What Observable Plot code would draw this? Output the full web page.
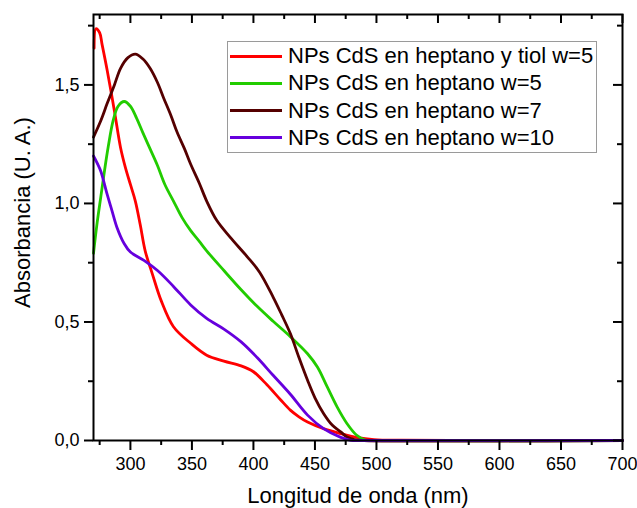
<!DOCTYPE html>
<html>
<head>
<meta charset="utf-8">
<script src="https://cdn.jsdelivr.net/npm/d3@7"></script>
<script src="https://cdn.jsdelivr.net/npm/@observablehq/plot@0.6"></script>
<style>
  html, body { margin: 0; padding: 0; background: #fff; }
  #wrap { position: relative; width: 637px; height: 508px; font-family: "Liberation Sans", Arial, sans-serif; }
  #legend { position: absolute; left: 227px; top: 41px; width: 370px; height: 112px; border: 1.5px solid #9a9a9a; box-sizing: border-box; background: #fff; }
  .row { position: absolute; left: 0; height: 27px; display: flex; align-items: center; font-size: 22px; color: #000; white-space: nowrap; }
  .sw { display: inline-block; width: 52px; height: 3px; margin-left: 2px; margin-right: 6px; }
</style>
</head>
<body>
<div id="wrap"></div>
<script>
// ---- data ----
const seriesNames = [
  "NPs CdS en heptano y tiol w=5",
  "NPs CdS en heptano w=5",
  "NPs CdS en heptano w=7",
  "NPs CdS en heptano w=10"
];
const seriesColors = ["#ff0000", "#22cc00", "#550000", "#6600dd"];

const redX = [270.5, 272, 275, 277, 281, 287, 292, 296, 300, 304, 308, 312, 318, 325, 335, 349, 362, 376, 390, 400, 411, 422, 430, 437, 444, 457, 471, 484, 498, 520, 560, 700];
const redY = [1.655, 1.737, 1.72, 1.67, 1.565, 1.39, 1.235, 1.15, 1.08, 1.01, 0.91, 0.80, 0.70, 0.59, 0.48, 0.41, 0.36, 0.335, 0.315, 0.29, 0.235, 0.172, 0.128, 0.100, 0.078, 0.05, 0.029, 0.013, 0.004, 0.001, 0.0, 0.0];

const greenX = [270, 273, 276, 279, 282, 286, 290, 295, 300, 305, 310, 316, 322, 328, 335, 342, 349, 356, 362, 376, 390, 403, 416, 430, 444, 452, 460, 468, 476, 484, 491, 500, 700];
const greenY = [0.79, 0.92, 1.03, 1.14, 1.24, 1.35, 1.41, 1.43, 1.41, 1.36, 1.30, 1.23, 1.16, 1.08, 1.01, 0.94, 0.885, 0.84, 0.80, 0.717, 0.636, 0.566, 0.503, 0.438, 0.366, 0.31, 0.226, 0.142, 0.072, 0.022, 0.002, 0.0, 0.0];

const brownX = [270, 276, 281, 287, 292, 298, 304, 310, 316, 322, 327, 333, 338, 344, 349, 356, 362, 370, 381, 395, 405, 416, 423, 430, 437, 444, 450, 457, 464, 471, 476, 482, 490, 700];
const brownY = [1.28, 1.35, 1.42, 1.50, 1.57, 1.615, 1.63, 1.61, 1.57, 1.51, 1.445, 1.37, 1.30, 1.23, 1.165, 1.085, 1.01, 0.93, 0.858, 0.775, 0.71, 0.605, 0.53, 0.451, 0.35, 0.254, 0.18, 0.114, 0.065, 0.036, 0.015, 0.004, 0.0, 0.0];

const purpleX = [270, 273, 276, 281, 285, 289, 295, 300, 311, 322, 335, 349, 362, 376, 390, 403, 416, 430, 444, 457, 471, 479, 490, 700];
const purpleY = [1.20, 1.17, 1.135, 1.04, 0.97, 0.90, 0.83, 0.795, 0.76, 0.717, 0.65, 0.572, 0.515, 0.47, 0.416, 0.35, 0.275, 0.195, 0.107, 0.05, 0.013, 0.001, 0.0, 0.0];

const xMajorTicks = [300, 350, 400, 450, 500, 550, 600, 650, 700];
const xMinorTicks = [275, 325, 375, 425, 475, 525, 575, 625, 675];
const yMajorTicks = [0, 0.5, 1.0, 1.5];
const yMinorTicks = [0.25, 0.75, 1.25, 1.75];
const xTitle = "Longitud de onda (nm)";
const yTitle = "Absorbancia (U. A.)";

// ---- build ----
const W = 637, H = 508, ML = 93, MR = 15, MT = 14, MB = 68;
const PW = W - ML - MR, PH = H - MT - MB;

const allX = [redX, greenX, brownX, purpleX];
const allY = [redY, greenY, brownY, purpleY];
const rows = [];
allX.forEach((xs, i) => xs.forEach((x, j) => rows.push({series: seriesNames[i], x, y: allY[i][j]})));

const fmtY = d => d.toFixed(1).replace(".", ",");
const font = "\"Liberation Sans\", Arial, sans-serif";

const lineMarks = seriesNames.map((name, i) =>
  Plot.line(rows.filter(r => r.series === name), {
    x: "x", y: "y", stroke: seriesColors[i], strokeWidth: 2.8, curve: "catmull-rom"
  })
);

const tk = {stroke: "#000", strokeWidth: 2};

const chart = Plot.plot({
  width: W,
  height: H,
  marginLeft: ML,
  marginRight: MR,
  marginTop: MT,
  marginBottom: MB,
  style: {fontFamily: font, color: "#000", background: "#fff", overflow: "visible"},
  x: {domain: [270, 700], axis: null},
  y: {domain: [0, 1.797], axis: null},
  marks: [
    ...lineMarks,
    Plot.frame({stroke: "#000", strokeWidth: 2}),
    // bottom ticks (outward)
    Plot.tickX(xMajorTicks, {x: d => d, insetTop: PH, insetBottom: -10, ...tk}),
    Plot.tickX(xMinorTicks, {x: d => d, insetTop: PH, insetBottom: -5, ...tk}),
    // top ticks (inward)
    Plot.tickX(xMajorTicks, {x: d => d, insetTop: 0, insetBottom: PH - 9, ...tk}),
    Plot.tickX(xMinorTicks, {x: d => d, insetTop: 0, insetBottom: PH - 5, ...tk}),
    // left ticks (outward)
    Plot.tickY(yMajorTicks, {y: d => d, insetLeft: -9, insetRight: PW, ...tk}),
    Plot.tickY(yMinorTicks, {y: d => d, insetLeft: -5, insetRight: PW, ...tk}),
    // right ticks (inward)
    Plot.tickY(yMajorTicks, {y: d => d, insetLeft: PW - 9, insetRight: 0, ...tk}),
    Plot.tickY(yMinorTicks, {y: d => d, insetLeft: PW - 5, insetRight: 0, ...tk}),
    // tick labels
    Plot.text(xMajorTicks, {x: d => d, text: d => String(d), frameAnchor: "bottom", lineAnchor: "middle", dy: 24, fontSize: 18, fill: "#000"}),
    Plot.text(yMajorTicks, {y: d => d, text: fmtY, frameAnchor: "left", dx: -14, textAnchor: "end", lineAnchor: "middle", fontSize: 18, fill: "#000"}),
    // titles
    Plot.text([xTitle], {text: d => d, frameAnchor: "bottom", lineAnchor: "middle", textAnchor: "middle", dy: 55, fontSize: 22, fill: "#000"}),
    Plot.text([yTitle], {text: d => d, frameAnchor: "left", rotate: -90, textAnchor: "middle", lineAnchor: "middle", dx: -71, dy: -15, fontSize: 22, fill: "#000"})
  ]
});

const wrap = document.getElementById("wrap");
wrap.appendChild(chart);

const legend = document.createElement("div");
legend.id = "legend";
seriesNames.forEach((name, i) => {
  const row = document.createElement("div");
  row.className = "row";
  row.style.top = (0.5 + i * 27.3) + "px";
  const sw = document.createElement("span");
  sw.className = "sw";
  sw.style.background = seriesColors[i];
  const t = document.createElement("span");
  t.textContent = name;
  row.appendChild(sw);
  row.appendChild(t);
  legend.appendChild(row);
});
wrap.appendChild(legend);
</script>
</body>
</html>
